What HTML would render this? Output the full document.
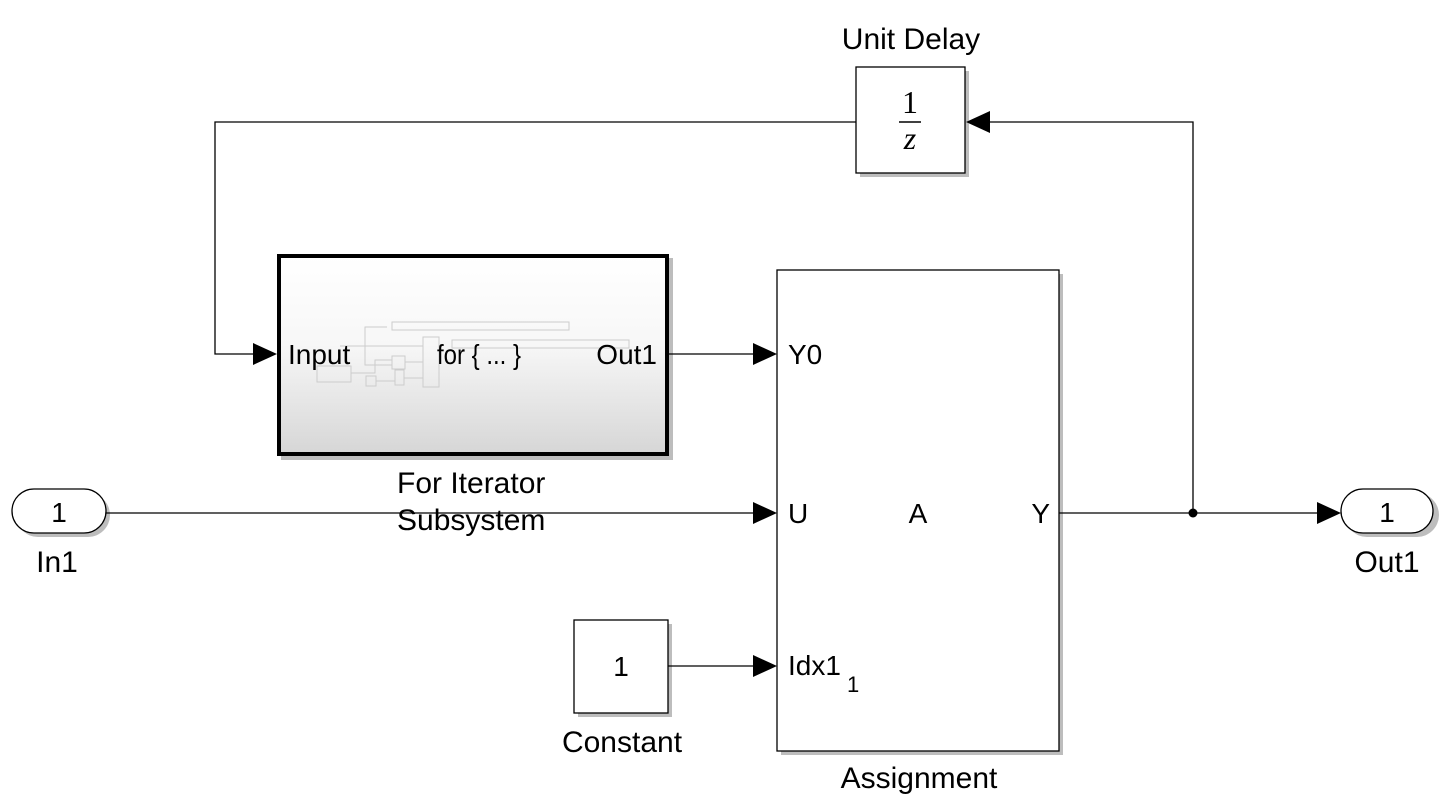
<!DOCTYPE html>
<html><head><style>html,body{margin:0;padding:0;background:#fff;}svg{display:block}</style></head>
<body>
<svg width="1450" height="810" xmlns="http://www.w3.org/2000/svg" font-family="Liberation Sans, Arial, sans-serif" font-size="28">
<defs>
<linearGradient id="g" x1="0" y1="0" x2="0" y2="1"><stop offset="0" stop-color="#ffffff"/><stop offset="0.45" stop-color="#f7f7f7"/><stop offset="1" stop-color="#d6d6d6"/></linearGradient>
</defs>
<g fill="#bdbdbd">
<rect x="860" y="71" width="109" height="106"/>
<rect x="578" y="624" width="94" height="93"/>
<rect x="781" y="274" width="282" height="481"/>
<rect x="16" y="493" width="94" height="44" rx="22"/>
<rect x="1345" y="493" width="94" height="44" rx="22"/>
<rect x="281" y="258" width="392" height="202"/>
</g>
<g stroke="#000" stroke-width="1.3" fill="none">
<polyline points="856,122 215,122 215,354 255,354"/>
<line x1="669" y1="354" x2="756" y2="354"/>
<line x1="106" y1="513" x2="756" y2="513"/>
<line x1="668" y1="666" x2="756" y2="666"/>
<line x1="1059" y1="513" x2="1320" y2="513"/>
<polyline points="1193,513 1193,122 990,122"/>
</g>
<circle cx="1193" cy="513" r="4.5" fill="#000"/>
<g fill="#000">
<polygon points="277,354 253,343 253,365"/>
<polygon points="777,354 753,343 753,365"/>
<polygon points="777,513 753,502 753,524"/>
<polygon points="777,666 753,655 753,677"/>
<polygon points="1341,513 1317,502 1317,524"/>
<polygon points="966,122 990,111 990,133"/>
</g>
<rect x="856" y="67" width="109" height="106" fill="#fff" stroke="#000" stroke-width="1.3"/>
<text x="910" y="113" text-anchor="middle" font-family="Liberation Serif, serif" font-size="32">1</text>
<line x1="899" y1="122" x2="921" y2="122" stroke="#000" stroke-width="1.6"/>
<text x="910" y="149" text-anchor="middle" font-family="Liberation Serif, serif" font-style="italic" font-size="32">z</text>
<text x="911" y="49" text-anchor="middle" font-size="30">Unit Delay</text>

<rect x="279" y="256" width="388" height="198" fill="url(#g)" stroke="#000" stroke-width="4"/>
<g stroke="#ccc" stroke-width="1" fill="none">
<rect x="392" y="322" width="177" height="8"/>
<rect x="452" y="340" width="177" height="8"/>
<rect x="423" y="337" width="16" height="50"/>
<rect x="317" y="366" width="34" height="16"/>
<rect x="392" y="356" width="13" height="13"/>
<rect x="395" y="370" width="9" height="15"/>
<rect x="366" y="376" width="10" height="10"/>
<polyline points="387,327 365,327 365,365 392,365"/>
<polyline points="340,346 423,346"/>
<polyline points="351,373 375,373 375,360 392,360"/>
<polyline points="405,362 423,362"/>
<polyline points="404,378 423,378"/>
<polyline points="376,381 395,381"/>
</g>
<text x="288" y="364">Input</text>
<text x="437" y="364" textLength="84" lengthAdjust="spacingAndGlyphs">for { ... }</text>
<text x="657" y="364" text-anchor="end">Out1</text>
<text x="397" y="493" font-size="30">For Iterator</text>
<text x="397" y="530" font-size="30">Subsystem</text>

<rect x="777" y="270" width="282" height="481" fill="#fff" stroke="#000" stroke-width="1.3"/>
<text x="788" y="364">Y0</text>
<text x="788" y="523">U</text>
<text x="918" y="523" text-anchor="middle">A</text>
<text x="1050" y="523" text-anchor="end">Y</text>
<text x="788" y="675">Idx1</text>
<text x="847" y="692" font-size="22">1</text>
<text x="919" y="788" text-anchor="middle" font-size="30">Assignment</text>

<rect x="574" y="620" width="94" height="93" fill="#fff" stroke="#000" stroke-width="1.3"/>
<text x="621" y="676" text-anchor="middle">1</text>
<text x="622" y="752" text-anchor="middle" font-size="30">Constant</text>

<rect x="12" y="489" width="94" height="44" rx="22" fill="#fff" stroke="#000" stroke-width="1.3"/>
<text x="59" y="522" text-anchor="middle">1</text>
<text x="57" y="572" text-anchor="middle" font-size="30">In1</text>
<rect x="1341" y="489" width="92" height="44" rx="22" fill="#fff" stroke="#000" stroke-width="1.3"/>
<text x="1387" y="522" text-anchor="middle">1</text>
<text x="1387" y="572" text-anchor="middle" font-size="30">Out1</text>
</svg>
</body></html>
